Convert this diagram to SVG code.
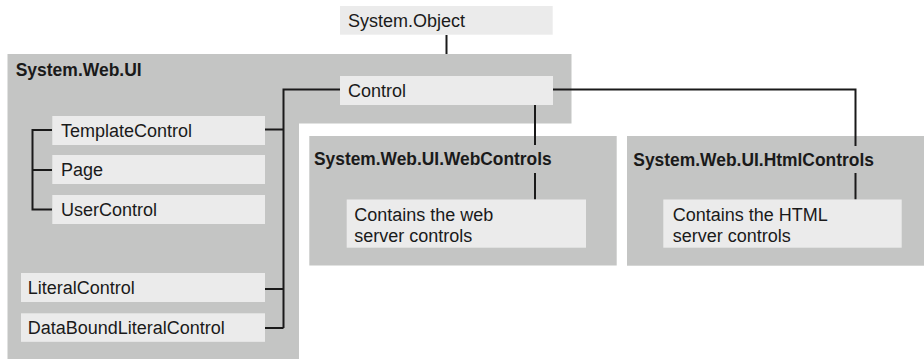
<svg xmlns="http://www.w3.org/2000/svg" width="924" height="360" viewBox="0 0 924 360">
<style>
  .ns { fill: #c4c5c4; }
  .box { fill: #ebebeb; }
  .t { font-family: "Liberation Sans", Arial, sans-serif; font-size: 18px; fill: #1a1a1a; }
  .h { font-family: "Liberation Sans", Arial, sans-serif; font-size: 18px; font-weight: bold; fill: #1a1a1a; }
  .c { fill: none; stroke: #1a1a1a; stroke-width: 2; }
</style>
<rect width="924" height="360" fill="#ffffff"/>
<g id="ns-system-web-ui">
  <path class="ns" d="M7.5,54 H571.5 V123.5 H299 V359 H7.5 Z"/>
  <text class="h" x="15.7" y="76" textLength="126" lengthAdjust="spacingAndGlyphs">System.Web.UI</text>
</g>
<g id="ns-webcontrols">
  <rect class="ns" x="309.3" y="136" width="307.4" height="129.5"/>
  <text class="h" x="314" y="165" textLength="237.7" lengthAdjust="spacingAndGlyphs">System.Web.UI.WebControls</text>
</g>
<g id="ns-htmlcontrols">
  <rect class="ns" x="627" y="136" width="297" height="129.7"/>
  <text class="h" x="633.3" y="166" textLength="240.7" lengthAdjust="spacingAndGlyphs">System.Web.UI.HtmlControls</text>
</g>
<g id="connectors">
  <path class="c" d="M446.5,35 V54"/>
  <path class="c" d="M340,89.5 H283.5 V328"/>
  <path class="c" d="M265,129.5 H283.5 M265,289 H283.5 M265,328 H283.5"/>
  <path class="c" d="M52,130 H32.5 V209.5 H52 M32.5,170 H52"/>
  <path class="c" d="M553,89.5 H855.5 V146 M855.5,173 V199.5"/>
  <path class="c" d="M535,105 V145 M535,173 V199.5"/>
</g>
<g id="system-object">
  <rect class="box" x="340" y="6" width="212.7" height="28.7"/>
  <text class="t" x="348" y="27">System.Object</text>
</g>
<g id="control">
  <rect class="box" x="340" y="76" width="213" height="29"/>
  <text class="t" x="348" y="97">Control</text>
</g>
<g id="templatecontrol">
  <rect class="box" x="52.3" y="116" width="212.7" height="29"/>
  <text class="t" x="61" y="137.3">TemplateControl</text>
</g>
<g id="page">
  <rect class="box" x="52.3" y="155" width="212.7" height="29"/>
  <text class="t" x="61" y="176.3">Page</text>
</g>
<g id="usercontrol">
  <rect class="box" x="52.3" y="195" width="212.7" height="29"/>
  <text class="t" x="61" y="216.3">UserControl</text>
</g>
<g id="literalcontrol">
  <rect class="box" x="21" y="273" width="244" height="29"/>
  <text class="t" x="27.7" y="294.3">LiteralControl</text>
</g>
<g id="databoundliteralcontrol">
  <rect class="box" x="21" y="313.3" width="244" height="28.5"/>
  <text class="t" x="27.7" y="334.3">DataBoundLiteralControl</text>
</g>
<g id="web-server-controls">
  <rect class="box" x="346.7" y="199.5" width="239.3" height="48.2"/>
  <text class="t" x="354.3" y="220.5">Contains the web</text>
  <text class="t" x="354.3" y="242">server controls</text>
</g>
<g id="html-server-controls">
  <rect class="box" x="663.3" y="199.5" width="238.4" height="48.2"/>
  <text class="t" x="672.7" y="220.5">Contains the HTML</text>
  <text class="t" x="672.7" y="242">server controls</text>
</g>
</svg>
